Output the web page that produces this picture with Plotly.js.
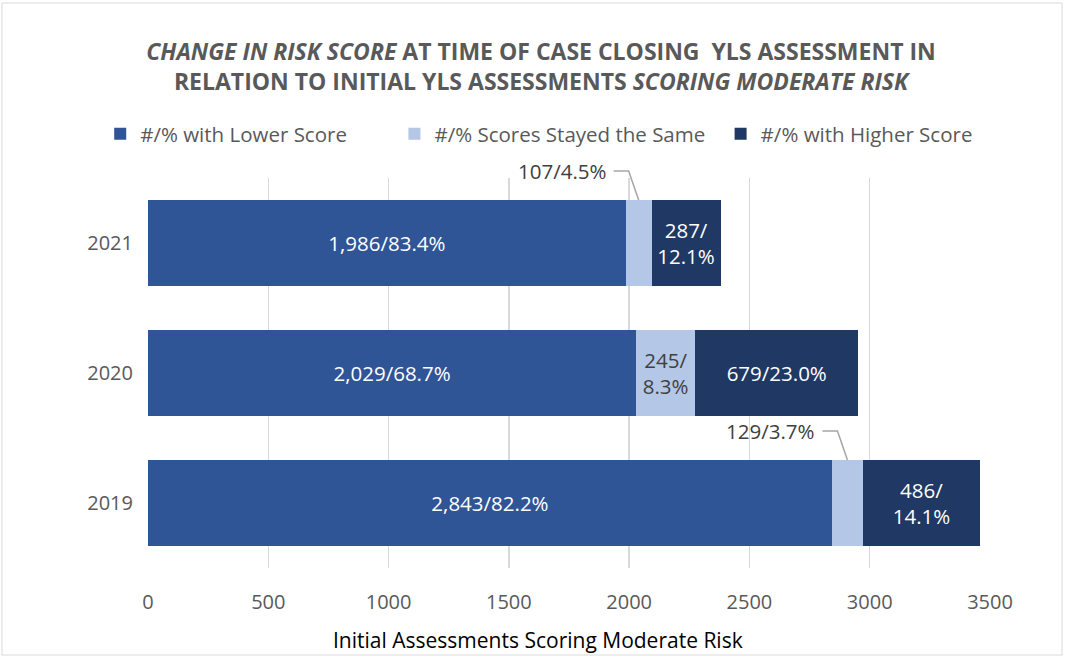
<!DOCTYPE html>
<html>
<head>
<meta charset="utf-8">
<script src="https://cdn.plot.ly/plotly-3.0.1.min.js"></script>
<style>html,body{margin:0;padding:0;background:#fff;}#chart{width:1066px;height:660px;}</style>
</head>
<body>
<div id="chart"></div>
<script>
const years = ['2019', '2020', '2021'];
const lowerVals = [2843, 2029, 1986];
const sameVals = [129, 245, 107];
const higherVals = [486, 679, 287];
const lowerLabels = ['2,843/82.2%', '2,029/68.7%', '1,986/83.4%'];
const sameLabels = ['129/3.7%', '245/<br>8.3%', '107/4.5%'];
const higherLabels = ['486/<br>14.1%', '679/23.0%', '287/<br>12.1%'];
const sameCallout = [true, false, true];
const seriesNames = ['#/% with Lower Score', '#/% Scores Stayed the Same', '#/% with Higher Score'];
const xTicks = [0, 500, 1000, 1500, 2000, 2500, 3000, 3500];
const xTitle = 'Initial Assessments Scoring Moderate Risk';

const FONT = '"Open Sans", "Noto Sans", sans-serif';
const C_LOW = '#2F5597', C_SAME = '#B4C7E7', C_HIGH = '#203864';
const Y_RANGE = [-0.5, 2.5];
const HALF_BAR = 0.33;

const common = {
  type: 'bar', orientation: 'h', y: years,
  textposition: 'inside', insidetextanchor: 'middle', constraintext: 'none',
  textangle: 0, hoverinfo: 'skip', cliponaxis: false
};

const traces = [
  Object.assign({}, common, {
    name: seriesNames[0], x: lowerVals, text: lowerLabels, legend: 'legend',
    marker: {color: C_LOW, line: {width: 0}},
    insidetextfont: {family: FONT, size: 20.5, color: '#FFFFFF'}
  }),
  Object.assign({}, common, {
    name: seriesNames[1], x: sameVals, legend: 'legend2',
    text: sameLabels.map((t, i) => sameCallout[i] ? '' : t),
    marker: {color: C_SAME, line: {width: 0}},
    insidetextfont: {family: FONT, size: 20.5, color: '#404040'}
  }),
  Object.assign({}, common, {
    name: seriesNames[2], x: higherVals, text: higherLabels, legend: 'legend3',
    marker: {color: C_HIGH, line: {width: 0}},
    insidetextfont: {family: FONT, size: 20.5, color: '#FFFFFF'}
  })
];

const annotations = [];
const shapes = [];
years.forEach((yr, i) => {
  if (!sameCallout[i]) return;
  const cx = lowerVals[i] + sameVals[i] / 2;
  annotations.push({
    x: cx, y: i + HALF_BAR, xref: 'x', yref: 'y',
    text: sameLabels[i], showarrow: false,
    xanchor: 'right', yanchor: 'middle', xshift: -31, yshift: 29,
    font: {family: FONT, size: 20.5, color: '#404040'}
  });
  shapes.push({
    type: 'path', xref: 'x', yref: 'paper',
    xsizemode: 'pixel', ysizemode: 'pixel',
    xanchor: cx, yanchor: (i + HALF_BAR - Y_RANGE[0]) / (Y_RANGE[1] - Y_RANGE[0]),
    path: 'M -25,29 L -10,29 L 0,0',
    line: {color: '#A6A6A6', width: 1.5}
  });
});
shapes.push({
  type: 'rect', xref: 'paper', yref: 'paper',
  x0: -146/842, x1: 1 + 72/842, y0: -87/390, y1: 1 + 175/390,
  line: {color: '#D9D9D9', width: 1}, layer: 'below'
});
annotations.push({
  text: xTitle, xref: 'paper', yref: 'paper',
  x: (538 - 148) / 842, y: -(640 - 568) / 390,
  xanchor: 'center', yanchor: 'middle', showarrow: false,
  font: {family: FONT, size: 21, color: '#000000'}
});

const legendBase = {
  orientation: 'h', xanchor: 'left', xref: 'container',
  y: 0.797, yref: 'container', yanchor: 'middle',
  font: {family: FONT, size: 20.5, color: '#595959'},
  itemwidth: 30, bgcolor: 'rgba(0,0,0,0)'
};

const layout = {
  width: 1066, height: 660,
  margin: {l: 148, r: 76, t: 178, b: 92, autoexpand: false},
  paper_bgcolor: '#FFFFFF', plot_bgcolor: '#FFFFFF',
  barmode: 'stack', bargap: 0.34,
  font: {family: FONT, color: '#595959', size: 20},
  title: {
    text: '<b><i>CHANGE IN RISK SCORE</i> AT TIME OF CASE CLOSING  YLS ASSESSMENT IN<br>RELATION TO INITIAL YLS ASSESSMENTS <i>SCORING MODERATE RISK</i></b>',
    font: {family: FONT, size: 23, color: '#595959'},
    x: 0.5075, xref: 'container', xanchor: 'center', y: 0.909, yanchor: 'middle'
  },
  showlegend: true,
  legend: Object.assign({}, legendBase, {x: 0.094}),
  legend2: Object.assign({}, legendBase, {x: 0.370}),
  legend3: Object.assign({}, legendBase, {x: 0.676}),
  xaxis: {
    range: [0, 3500], tickvals: xTicks, ticktext: xTicks.map(String),
    showgrid: true, gridcolor: '#D9D9D9', gridwidth: 1.3,
    zeroline: false, showline: false, ticks: '', tickangle: 0,
    tickfont: {family: FONT, size: 20, color: '#595959'},
    ticklabelstandoff: 20,
    fixedrange: true
  },
  yaxis: {
    type: 'category', categoryorder: 'array', categoryarray: years,
    range: Y_RANGE, autorange: false,
    showgrid: false, zeroline: false, showline: false, ticks: '',
    tickfont: {family: FONT, size: 20, color: '#595959'},
    ticklabelstandoff: 14, fixedrange: true
  },
  annotations: annotations,
  shapes: shapes
};

Plotly.newPlot('chart', traces, layout, {displayModeBar: false, staticPlot: true});
</script>
</body>
</html>
